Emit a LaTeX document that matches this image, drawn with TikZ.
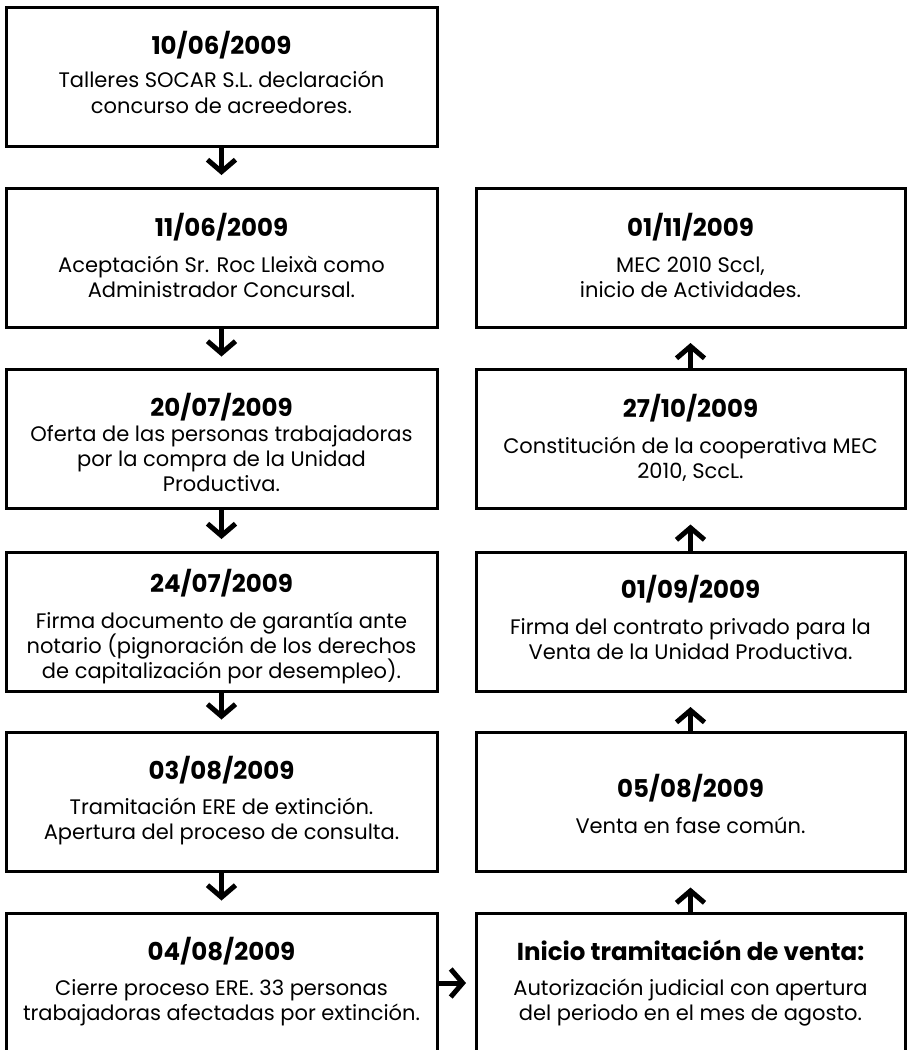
\documentclass[tikz,border=0pt]{standalone}
\usepackage{fontspec}
\setmainfont{Poppins}
\usetikzlibrary{arrows.meta}
\tikzset{
  evbox/.style={draw=black, line width=3pt, minimum width=431pt, minimum height=139pt, inner sep=0pt, outer sep=0pt},
  evboxr/.style={evbox, minimum width=429pt},
  ttl/.style={font=\fontsize{24.5}{28}\selectfont\bfseries, anchor=base, inner sep=0pt},
  txt/.style={font=\fontsize{21}{25}\selectfont, anchor=base, inner sep=0pt},
  arr/.style={line width=5pt, -{Straight Barb[length=12pt,width=28pt]}},
}
\begin{document}
\begin{tikzpicture}[x=1pt,y=-1pt]
\useasboundingbox (0,0) rectangle (907,1050);
\clip (0,0) rectangle (907,1050);
\fill[white] (0,0) rectangle (907,1050);
% left column
\node[evbox] (b1) at (221.5,77) {};
\node[ttl] (b1t) at (221.5,54) {10/06/2009};
\node[txt] (b1a) at (221.5,87) {Talleres SOCAR S.L. declaración};
\node[txt] (b1b) at (221.5,113) {concurso de acreedores.};

\node[evbox] (b2) at (221.5,257.5) {};
\node[ttl] (b2t) at (221.5,236) {11/06/2009};
\node[txt] (b2a) at (221.5,272) {Aceptación Sr. Roc Lleixà como};
\node[txt] (b2b) at (221.5,297) {Administrador Concursal.};

\node[evbox] (b3) at (221.5,439) {};
\node[ttl] (b3t) at (221.5,416) {20/07/2009};
\node[txt] (b3a) at (221.5,441) {Oferta de las personas trabajadoras};
\node[txt] (b3b) at (221.5,466) {por la compra de la Unidad};
\node[txt] (b3c) at (221.5,491) {Productiva.};

\node[evbox] (b4) at (221.5,621.5) {};
\node[ttl] (b4t) at (221.5,592) {24/07/2009};
\node[txt] (b4a) at (221.5,628) {Firma documento de garantía ante};
\node[txt] (b4b) at (221.5,653) {notario (pignoración de los derechos};
\node[txt] (b4c) at (221.5,678) {de capitalización por desempleo).};

\node[evbox] (b5) at (221.5,802) {};
\node[ttl] (b5t) at (221.5,779) {03/08/2009};
\node[txt] (b5a) at (221.5,814) {Tramitación ERE de extinción.};
\node[txt] (b5b) at (221.5,839) {Apertura del proceso de consulta.};

\node[evbox] (b6) at (221.5,983) {};
\node[ttl] (b6t) at (221.5,960) {04/08/2009};
\node[txt] (b6a) at (221.5,995) {Cierre proceso ERE. 33 personas};
\node[txt] (b6b) at (221.5,1020) {trabajadoras afectadas por extinción.};

% right column
\node[evboxr] (r1) at (690.5,257.5) {};
\node[ttl] (r1t) at (690.5,236) {01/11/2009};
\node[txt] (r1a) at (690.5,272) {MEC 2010 Sccl,};
\node[txt] (r1b) at (690.5,297) {inicio de Actividades.};

\node[evboxr] (r2) at (690.5,439) {};
\node[ttl] (r2t) at (690.5,417) {27/10/2009};
\node[txt] (r2a) at (690.5,453) {Constitución de la cooperativa MEC};
\node[txt] (r2b) at (690.5,478) {2010, SccL.};

\node[evboxr] (r3) at (690.5,621.5) {};
\node[ttl] (r3t) at (690.5,598) {01/09/2009};
\node[txt] (r3a) at (690.5,634) {Firma del contrato privado para la};
\node[txt] (r3b) at (690.5,659) {Venta de la Unidad Productiva.};

\node[evboxr] (r4) at (690.5,802) {};
\node[ttl] (r4t) at (690.5,797) {05/08/2009};
\node[txt] (r4a) at (690.5,833) {Venta en fase común.};

\node[evboxr] (r5) at (690.5,983) {};
\node[ttl] (r5t) at (690.5,960) {Inicio tramitación de venta:};
\node[txt] (r5a) at (690.5,995) {Autorización judicial con apertura};
\node[txt] (r5b) at (690.5,1020) {del periodo en el mes de agosto.};

% connectors
\draw[arr, shorten >=13pt] (b1.south) -- (b2.north);
\draw[arr, shorten >=13pt] (b2.south) -- (b3.north);
\draw[arr, shorten >=13pt] (b3.south) -- (b4.north);
\draw[arr, shorten >=13pt] (b4.south) -- (b5.north);
\draw[arr, shorten >=13pt] (b5.south) -- (b6.north);
\draw[arr, shorten >=10pt] (b6.east) -- (r5.west);
\draw[arr, shorten >=16pt] (r5.north) -- (r4.south);
\draw[arr, shorten >=16pt] (r4.north) -- (r3.south);
\draw[arr, shorten >=16pt] (r3.north) -- (r2.south);
\draw[arr, shorten >=16pt] (r2.north) -- (r1.south);
\end{tikzpicture}
\end{document}
